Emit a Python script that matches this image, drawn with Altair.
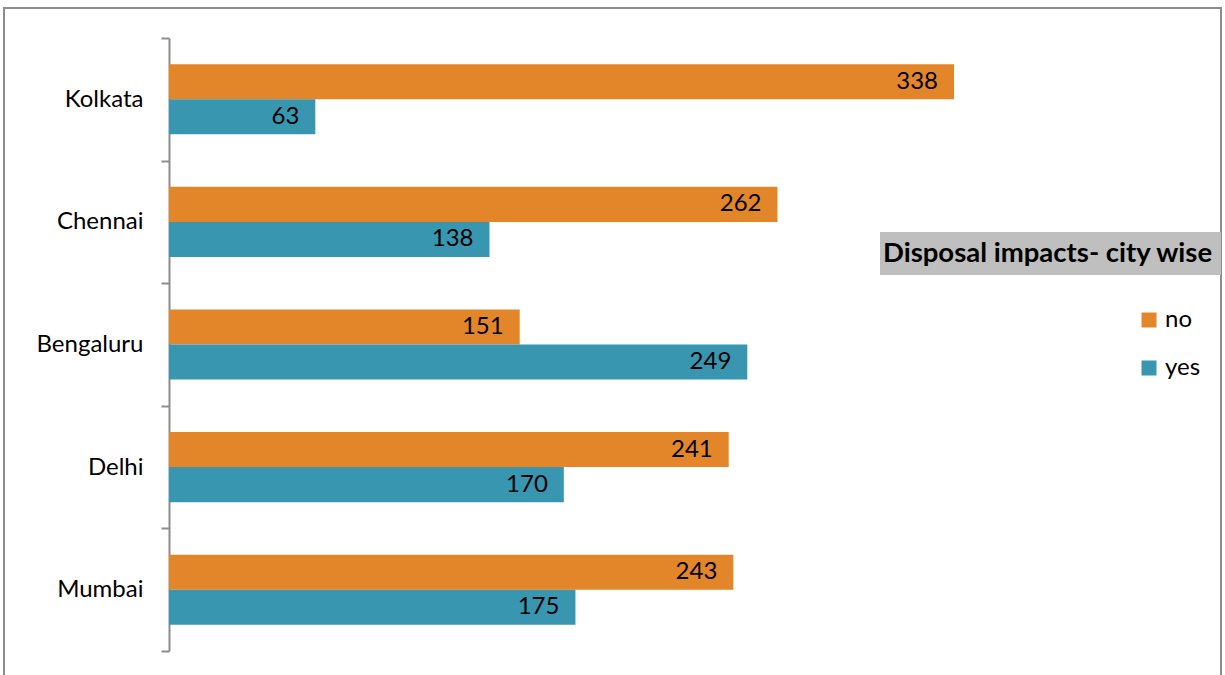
import altair as alt
import pandas as pd

cities = ["Kolkata", "Chennai", "Bengaluru", "Delhi", "Mumbai"]
no_vals = [338, 262, 151, 241, 243]
yes_vals = [63, 138, 249, 170, 175]
series = ["no", "yes"]
colors = ["#E3862A", "#3896B1"]
title_text = "Disposal impacts- city wise"

rows = []
for c, n, y in zip(cities, no_vals, yes_vals):
    rows.append({"city": c, "series": "no", "value": n})
    rows.append({"city": c, "series": "yes", "value": y})
df = pd.DataFrame(rows)

FONT = "Lato"

y_enc = alt.Y(
    "city:N", sort=cities,
    scale=alt.Scale(paddingInner=0, paddingOuter=0),
    axis=alt.Axis(title=None, tickBand="extent", domainColor="#8c8c8c", tickColor="#8c8c8c",
                  domainWidth=2, tickWidth=2, tickSize=8, labelPadding=18,
                  labelFontSize=24, labelFont=FONT, labelColor="black"),
)
yo_enc = alt.YOffset("series:N", sort=series, scale=alt.Scale(paddingInner=0, paddingOuter=0.75))
x_enc = alt.X("value:Q", scale=alt.Scale(domain=[0, 400]), axis=None)

base = alt.Chart(df)
bars = base.mark_bar().encode(
    y=y_enc, yOffset=yo_enc, x=x_enc,
    color=alt.Color("series:N", sort=series,
                    scale=alt.Scale(domain=series, range=colors),
                    legend=alt.Legend(title=None, orient="none", legendX=968, legendY=270,
                                      symbolType="square", symbolSize=225, symbolStrokeWidth=0,
                                      labelFontSize=24, labelFont=FONT, labelColor="black",
                                      rowPadding=24, labelOffset=4)),
)
labels = base.mark_text(align="right", baseline="middle", dx=-16, fontSize=24, font=FONT, color="black").encode(
    y=y_enc, yOffset=yo_enc, x=x_enc, text="value:Q"
)

one = pd.DataFrame({"t": [title_text]})
border = alt.Chart(one).mark_rect(fill=None, stroke="#8c8c8c", strokeWidth=2).encode(
    x=alt.value(-165), x2=alt.value(1052), y=alt.value(-30), y2=alt.value(700)
)
title_box = alt.Chart(one).mark_rect(fill="#BFBFBF").encode(
    x=alt.value(711), x2=alt.value(1052), y=alt.value(194), y2=alt.value(237)
)
title_txt = alt.Chart(one).mark_text(align="left", baseline="middle", fontSize=27.5, fontWeight="bold",
                                     font=FONT, color="black").encode(
    x=alt.value(714), y=alt.value(216), text="t:N"
)

chart = alt.layer(bars, labels, border, title_box, title_txt).properties(
    width=929, height=613,
    autosize=alt.AutoSizeParams(type="none"),
    padding={"left": 169, "top": 38, "right": 127, "bottom": 24},
).configure_view(stroke=None)

chart.save("out.html", embed_options={"renderer": "svg", "actions": False})
